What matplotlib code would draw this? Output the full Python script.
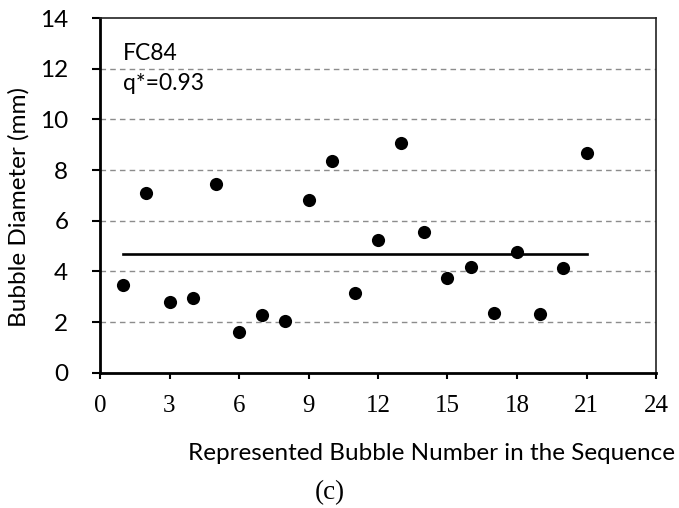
import matplotlib
matplotlib.use("Agg")
import matplotlib.pyplot as plt
import numpy as np

bubble_number = list(range(1, 22))
diameter_mm = [3.46, 7.10, 2.80, 2.94, 7.45, 1.61, 2.26, 2.05, 6.82, 8.37, 3.16,
               5.24, 9.05, 5.55, 3.72, 4.18, 2.37, 4.75, 2.30, 4.12, 8.68]
mean_diameter = float(np.mean(diameter_mm))
x_ticks = [0, 3, 6, 9, 12, 15, 18, 21, 24]
y_ticks = [0, 2, 4, 6, 8, 10, 12, 14]

W, H = 679, 508
fig = plt.figure(figsize=(W / 100, H / 100), dpi=100)
L, R, T, B = 100, 656, 18, 372.7
ax = fig.add_axes([L / W, 1 - B / H, (R - L) / W, (B - T) / H])

sans = ["Lato", "DejaVu Sans"]
serif = ["Liberation Serif", "DejaVu Serif"]

ax.set_xlim(0, 24)
ax.set_ylim(0, 14)

for y in y_ticks[1:-1]:
    ax.axhline(y, color="#8c8c8c", lw=1.0, ls=(0, (4, 3)), zorder=1)

ax.plot([bubble_number[0], bubble_number[-1]], [mean_diameter, mean_diameter],
        color="black", lw=1.9, zorder=2)
ax.scatter(bubble_number, diameter_mm, s=90, color="black", zorder=3, linewidths=0)

ax.set_xticks(x_ticks)
ax.set_yticks(y_ticks)
ax.set_xticklabels([str(v) for v in x_ticks], fontfamily=serif, fontsize=18)
ax.set_yticklabels([str(v) for v in y_ticks], fontfamily=sans, fontsize=17.5)
ax.tick_params(axis="x", direction="out", length=4.3, width=1.5, pad=12, color="black")
ax.tick_params(axis="y", direction="out", length=5.8, width=1.5, pad=17, color="black")

for side in ["left", "bottom"]:
    ax.spines[side].set_linewidth(2.0)
for side in ["top", "right"]:
    ax.spines[side].set_linewidth(1.2)
    ax.spines[side].set_color("#222222")

ax.text(23 / 556, 1 - (53 - 18) / 354.7, "FC84", transform=ax.transAxes, fontfamily=sans,
        fontsize=16.5, va="center", ha="left")
ax.text(23 / 556, 1 - (84 - 18) / 354.7, "q*=0.93", transform=ax.transAxes, fontfamily=sans,
        fontsize=16.5, va="center", ha="left")

fig.text(19 / W, 1 - 207 / H, "Bubble Diameter (mm)", rotation=90, fontfamily=sans,
         fontsize=17.5, ha="center", va="center")
fig.text(431 / W, 1 - 454 / H, "Represented Bubble Number in the Sequence",
         fontfamily=sans, fontsize=17.5, ha="center", va="center")
fig.text(330 / W, 1 - 493 / H, "(c)", fontfamily=serif, fontsize=19.5,
         ha="center", va="center")

fig.savefig("out.png", dpi=100)
